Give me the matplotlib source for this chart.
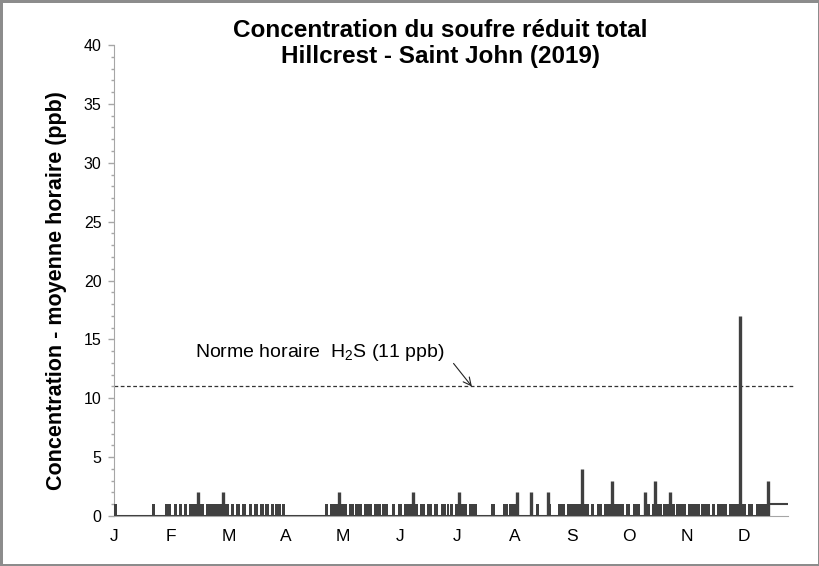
import matplotlib
matplotlib.use("Agg")
from matplotlib import pyplot as plt
from matplotlib.ticker import MultipleLocator

plt.rcParams["font.family"] = ["Liberation Sans", "DejaVu Sans"]
plt.rcParams["mathtext.default"] = "regular"

# periods (day of year) where the hourly value flickers between 0 and 1 ppb
block_start = [0, 20.7, 27.8, 32.5, 35.4, 37.9, 40.4, 49.8, 63.2, 66.1, 69.3, 72.9,
               75.8, 79.0, 81.9, 84.8, 87.2, 89.0, 91.1,
               114.2, 117.0, 127.2, 130.5, 135.5, 140.9, 145.3, 150.7, 153.9, 157.2,
               165.8, 169.5, 173.1, 177.0, 180.3, 181.9, 184.4, 192.0,
               204.0, 210.8, 213.7, 225.2, 228.5, 234.3, 240.4, 245.4, 252.6, 258.1,
               261.3, 265.3, 274.0, 277.2, 281.2, 287.3, 291.3, 297.4, 304.6, 310.8,
               318.0, 323.8, 326.3, 332.8, 343.3, 347.6]
block_end = [1.8, 22.2, 30.7, 33.9, 36.8, 39.7, 48.7, 62.4, 65.0, 68.2, 71.5, 74.7,
             78.0, 81.2, 83.8, 86.6, 88.8, 90.4, 92.6,
             116.0, 126.0, 129.8, 134.4, 139.5, 144.6, 148.5, 152.1, 156.1, 164.8,
             168.4, 172.0, 175.3, 179.6, 181.4, 183.7, 190.9, 196.4,
             206.1, 213.3, 219.1, 227.0, 229.9, 236.4, 244.4, 252.6, 257.3, 259.9,
             264.2, 274.0, 276.1, 279.4, 285.1, 290.5, 296.7, 303.9, 310.0, 317.3,
             322.7, 325.6, 331.7, 342.5, 346.1, 353.4]

# isolated hourly peaks
spike_day = [45.3, 58.9, 122.0, 162.0, 187.0, 218.0, 225.7, 235.0, 253.7, 269.6,
             287.8, 292.9, 301.0, 338.8, 354.2]
spike_val = [2, 2, 2, 2, 2, 2, 2, 2, 4, 3, 2, 3, 2, 17, 3]

# end of year: constant 1 ppb
tail_start = 354.8
year_end = 365
tail_val = 1

norme = 11
months = ["J", "F", "M", "A", "M", "J", "J", "A", "S", "O", "N", "D"]
month_pos = [31 * i for i in range(12)]

dark = "#404040"
grey = "#a6a6a6"

fig = plt.figure(figsize=(8.2, 5.66), dpi=100)
fig.patch.set_edgecolor("#8c8c8c")
fig.patch.set_linewidth(2.5)
ax = fig.add_axes([0.139, 0.0883, 0.822, 0.8322])

widths = [e - s for s, e in zip(block_start, block_end)]
ax.bar(block_start, [1] * len(block_start), width=widths, align="edge",
       color=dark, linewidth=0, zorder=3)
ax.plot([0, tail_start], [0, 0], color=dark, lw=2.2, zorder=3,
        solid_capstyle="butt")
ax.plot([tail_start, year_end], [tail_val, tail_val], color=dark, lw=1.5,
        zorder=3, solid_capstyle="butt")
ax.vlines(spike_day, 0, spike_val, color=dark, lw=2.4, zorder=4)

ax.axhline(norme, xmin=0, xmax=1.008, color="#333333", lw=0.9,
           ls=(0, (3, 2)), clip_on=False, zorder=2)
ax.annotate("Norme horaire  H$_2$S (11 ppb)", xy=(193.8, norme),
            xytext=(43.9, 13.9), fontsize=14, va="center", ha="left",
            arrowprops=dict(arrowstyle="->", lw=0.8, color="#222222",
                            relpos=(1.0, 0.5), shrinkA=7, shrinkB=0))

ax.set_xlim(0, year_end)
ax.set_ylim(0, 40)
ax.yaxis.set_major_locator(MultipleLocator(5))
ax.yaxis.set_minor_locator(MultipleLocator(1))
ax.set_xticks(month_pos)
ax.set_xticklabels(months)
ax.tick_params(axis="x", length=0, pad=9, labelsize=12.5)
ax.tick_params(axis="y", which="major", length=4, width=1, color=grey,
               pad=5, labelsize=11.5)
ax.tick_params(axis="y", which="minor", length=2.5, width=1, color=grey)

for s in ["top", "right"]:
    ax.spines[s].set_visible(False)
ax.spines["left"].set_color(grey)
ax.spines["bottom"].set_color(grey)

ax.set_ylabel("Concentration - moyenne horaire (ppb)", fontsize=15.5,
              fontweight="bold")
ax.yaxis.set_label_coords(-0.070, 0.478)

fig.text(0.537, 0.923, "Concentration du soufre réduit total\nHillcrest - Saint John (2019)",
         ha="center", va="center", fontsize=17.5, fontweight="bold", linespacing=1.15)

fig.savefig("out.png", dpi=100, edgecolor=fig.get_edgecolor())
